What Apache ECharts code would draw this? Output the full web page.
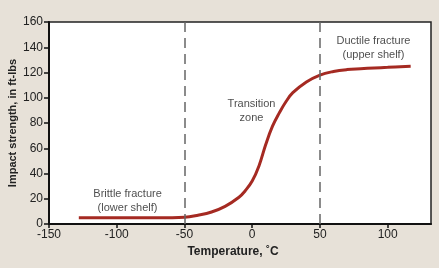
<!DOCTYPE html>
<html>
<head>
<meta charset="utf-8">
<script src="https://cdn.jsdelivr.net/npm/echarts@6/dist/echarts.min.js"></script>
<style>
  html, body { margin: 0; padding: 0; background: #e7e1d8; }
  #chart { width: 439px; height: 268px; }
</style>
</head>
<body>
<div id="chart"></div>
<script>
// impact energy vs temperature
const temps = [-128, -110, -90, -70, -50, -40, -30, -20, -10, -5, 0, 5, 10, 15, 20, 25, 30, 40, 50, 60, 70, 80, 90, 100, 117];
const strength = [5, 5, 5, 5, 5.4, 7, 9.5, 14, 21, 26.5, 34, 46, 63, 77.5, 88, 97, 104, 112.5, 118, 120.8, 122.3, 123, 123.6, 124.1, 125];
const zoneBounds = [-50, 50];
const xTicks = [-150, -100, -50, 0, 50, 100];
const yTicks = [0, 20, 40, 60, 80, 100, 120, 140, 160];
const notes = [
  { text: 'Brittle fracture\n(lower shelf)', x: -92, y: 18 },
  { text: 'Transition\nzone', x: -0.5, y: 89.5 },
  { text: 'Ductile fracture\n(upper shelf)', x: 89.5, y: 139.5 }
];

const FONT = '"Liberation Sans", Arial, sans-serif';

const chart = echarts.init(document.getElementById('chart'));

chart.setOption({
  animation: false,
  backgroundColor: '#e7e1d8',
  textStyle: { fontFamily: FONT },
  grid: {
    left: 49, top: 22, right: 8, bottom: 44,
    outerBoundsMode: 'none', containLabel: false,
    show: true, backgroundColor: '#fff', borderColor: '#222', borderWidth: 1.5
  },
  xAxis: {
    type: 'value', min: -150, max: 132, interval: 50,
    name: 'Temperature, ˚C', nameLocation: 'middle', nameGap: 20,
    nameTextStyle: { fontSize: 12, fontWeight: 'bold', color: '#222', fontFamily: FONT, padding: [0, 14, 0, 0] },
    axisLine: { onZero: false, lineStyle: { color: '#111', width: 2 } },
    axisTick: { length: 4, customValues: xTicks, lineStyle: { color: '#111', width: 1.5 } },
    axisLabel: { fontSize: 12, color: '#222', margin: 5, fontFamily: FONT, customValues: xTicks },
    splitLine: { show: false }
  },
  yAxis: {
    type: 'value', min: 0, max: 160, interval: 20,
    name: 'Impact strength, in ft-lbs', nameLocation: 'middle', nameGap: 31,
    nameMoveOverlap: false,
    nameTextStyle: { fontSize: 11, fontWeight: 'bold', color: '#222', fontFamily: FONT },
    axisLine: { onZero: false, lineStyle: { color: '#111', width: 2 } },
    axisTick: { length: 5, customValues: yTicks, lineStyle: { color: '#111', width: 1.5 } },
    axisLabel: { fontSize: 12, color: '#222', margin: 6, fontFamily: FONT, customValues: yTicks },
    splitLine: { show: false }
  },
  series: [
    {
      type: 'line',
      data: temps.map((t, i) => [t, strength[i]]),
      smooth: 0.4,
      symbol: 'none',
      lineStyle: { color: '#a52a22', width: 3 },
      markLine: {
        silent: true,
        symbol: 'none',
        label: { show: false },
        lineStyle: { color: '#666', type: [10, 6], width: 1.5 },
        data: zoneBounds.map(x => ({ xAxis: x }))
      },
      z: 3
    },
    {
      type: 'scatter',
      data: notes.map(n => [n.x, n.y]),
      symbolSize: 0,
      silent: true,
      label: {
        show: true,
        position: 'inside',
        formatter: p => notes[p.dataIndex].text,
        fontSize: 11, lineHeight: 14, color: '#222', align: 'center',
        fontFamily: FONT
      }
    }
  ]
});
</script>
</body>
</html>
